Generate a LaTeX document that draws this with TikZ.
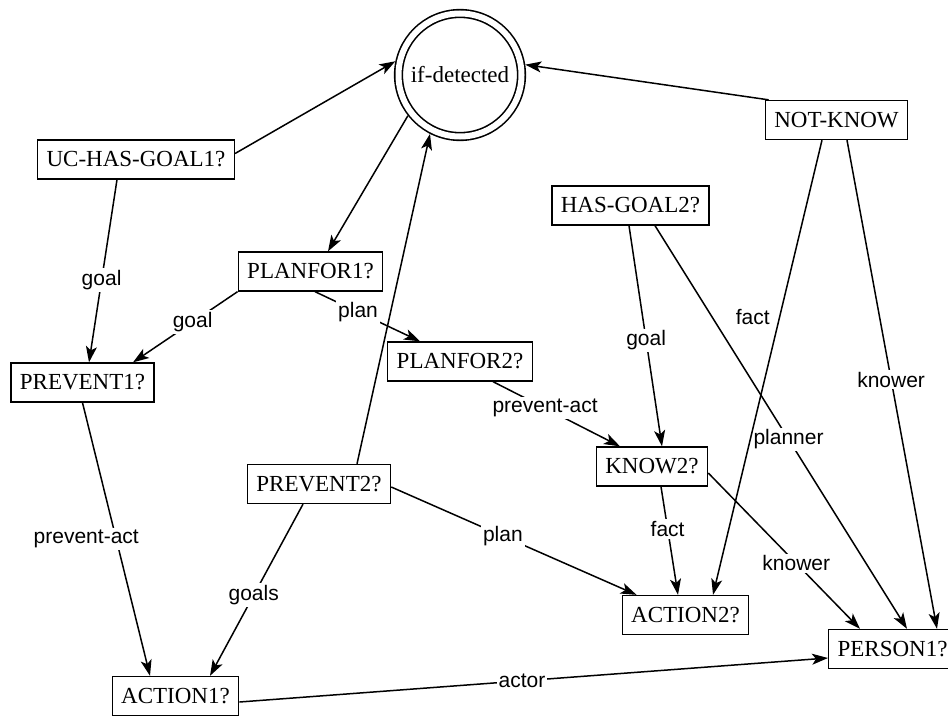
\documentclass[tikz,border=0pt]{standalone}
\usepackage{fontspec}
\setmainfont{Liberation Serif}
\newfontfamily\labfont{Liberation Sans}
\usetikzlibrary{arrows.meta,calc}
\begin{document}
\begin{tikzpicture}[x=1pt,y=-1pt,
  box/.style={draw,line width=1.3pt,inner xsep=9pt,minimum height=39pt,font=\fontsize{23}{23}\selectfont},
  lab/.style={fill=white,inner sep=2pt,font=\labfont\fontsize{21}{21}\selectfont},
  conn/.style={line width=1.5pt,-{Stealth[length=16pt,width=11pt,inset=4pt]}},
]
\useasboundingbox (0,0) rectangle (948,717);
\node[circle,draw,double,line width=1.6pt,double distance=6pt,minimum size=123pt,inner sep=0pt,outer sep=4.6pt,font=\fontsize{23}{23}\selectfont] (ifd) at (460,75) {if-detected};
\node[box] (uc) at (136,159.5) {UC-HAS-GOAL1?};
\node[box] (pf1) at (310.5,271.5) {PLANFOR1?};
\node[box] (pf2) at (460,361.5) {PLANFOR2?};
\node[box] (hg2) at (630.5,205.5) {HAS-GOAL2?};
\node[box] (nk) at (836.5,120) {NOT-KNOW};
\node[box] (p1) at (82.5,382.5) {PREVENT1?};
\node[box] (k2) at (652,466.5) {KNOW2?};
\node[box] (p2) at (319,484) {PREVENT2?};
\node[box] (a2) at (685.5,615) {ACTION2?};
\node[box] (a1) at (175.5,696) {ACTION1?};
\node[box,anchor=west] (per) at (828,649) {PERSON1?};

% to and from if-detected
\draw[conn] ([yshift=6pt]uc.east) -- (ifd.168);
\draw[conn] ([xshift=4pt]nk.north west) -- (ifd.9);
\draw[conn] (ifd.218) -- ([xshift=17.5pt]pf1.north);
\draw[conn] ([xshift=38pt]p2.north) -- (ifd.243);

% labelled connectors
\draw[conn] ([xshift=-19pt]uc.south) -- node[lab,pos=0.55] {goal} ([xshift=6.5pt]p1.north);
\draw[conn] (pf1.south west) -- node[lab,pos=0.43] {goal} ([xshift=50.5pt]p1.north);
\draw[conn] ([xshift=4.5pt]pf1.south) -- node[lab,pos=0.41] {plan} ([xshift=-40pt]pf2.north);
\draw[conn] ([xshift=33pt]pf2.south) -- node[lab,pos=0.41] {prevent-act} ([xshift=-32pt]k2.north);
\draw[conn] ([xshift=-1.5pt]hg2.south) -- node[lab,pos=0.52] {goal} ([xshift=10pt]k2.north);
\draw[conn] ([xshift=24.5pt]hg2.south) -- node[lab,pos=0.53] {planner} ([xshift=79pt]per.north west);
\draw[conn] ([xshift=-14.5pt]nk.south) -- node[pos=0.39,anchor=east,xshift=-8pt,inner sep=1pt,font=\labfont\fontsize{21}{21}\selectfont] {fact} ([xshift=27.5pt]a2.north);
\draw[conn] ([xshift=10.5pt]nk.south) -- node[lab,pos=0.49] {knower} ([xshift=109pt]per.north west);
\draw[conn] ([xshift=9pt]k2.south) -- node[lab,pos=0.39] {fact} ([xshift=-7.5pt]a2.north);
\draw[conn] ([yshift=-6.5pt]k2.east) -- node[lab,pos=0.58] {knower} ([xshift=32pt]per.north west);
\draw[conn] (p1.south) -- node[lab,pos=0.5,xshift=-30pt] {prevent-act} ([xshift=-25.5pt]a1.north);
\draw[conn] ([xshift=-16pt]p2.south) -- node[lab,pos=0.53] {goals} ([xshift=34.5pt]a1.north);
\draw[conn] ([yshift=-3pt]p2.east) -- node[lab,pos=0.455] {plan} ([xshift=15pt]a2.north west);
\draw[conn] ([yshift=-6pt]a1.east) -- node[lab,pos=0.48] {actor} ([yshift=-9pt]per.west);
\end{tikzpicture}
\end{document}
